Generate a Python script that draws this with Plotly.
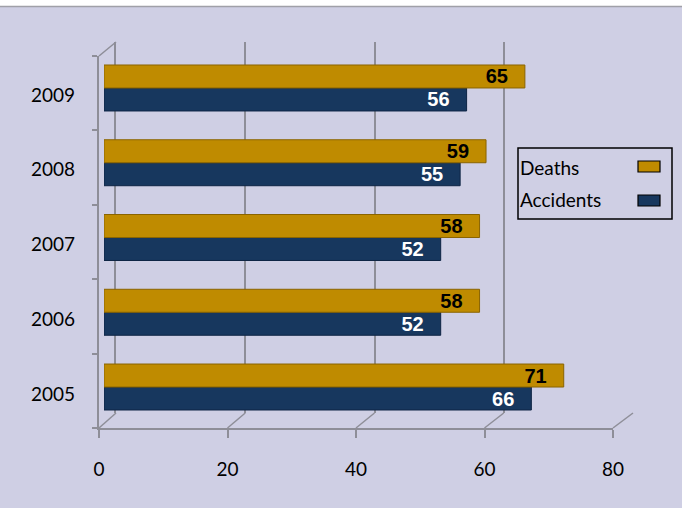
import plotly.graph_objects as go

years = ["2005", "2006", "2007", "2008", "2009"]
deaths = [71, 58, 58, 59, 65]
accidents = [66, 52, 52, 55, 56]
x_ticks = [0, 20, 40, 60, 80]

W, H = 682, 508
def px(p): return p / W
def py(p): return 1 - p / H

BG = "#CFCFE4"
GOLD = "#BF8B00"
NAVY = "#17375E"
GRID = "#8E8E98"
FONT = "Lato"

fig = go.Figure()
# back wall subplot (x, y) - gridlines only
fig.add_trace(go.Scatter(x=[], y=[], xaxis="x", yaxis="y", showlegend=False))
# front frame subplot (x2, y2)
fig.add_trace(go.Scatter(x=[], y=[], xaxis="x2", yaxis="y2", showlegend=False))
# bars (x3, y3)
fig.add_trace(go.Bar(y=years, x=accidents, orientation="h", name="Accidents",
                     marker=dict(color=NAVY, line=dict(color="#0E2444", width=1)),
                     text=accidents, texttemplate="%{x}\u2002\u2009",
                     textposition="inside", insidetextanchor="end", constraintext="none",
                     textfont=dict(family="Liberation Sans", size=20, color="white", weight="bold"),
                     xaxis="x3", yaxis="y3", showlegend=False))
fig.add_trace(go.Bar(y=years, x=deaths, orientation="h", name="Deaths",
                     marker=dict(color=GOLD, line=dict(color="#8A6400", width=1)),
                     text=deaths, texttemplate="%{x}\u2002\u2009",
                     textposition="inside", insidetextanchor="end", constraintext="none",
                     textfont=dict(family="Liberation Sans", size=20, color="black", weight="bold"),
                     xaxis="x3", yaxis="y3", showlegend=False))

shapes = []
# top white strip and border line
shapes.append(dict(type="rect", xref="paper", yref="paper", x0=0, x1=1, y0=py(6), y1=1,
                   fillcolor="white", line=dict(width=0), layer="below"))
shapes.append(dict(type="line", xref="paper", yref="paper", x0=0, x1=1, y0=py(6.5), y1=py(6.5),
                   line=dict(color="#A0A0A8", width=1.5)))
# floor diagonals
for v in x_ticks:
    fx = 99 + v / 80 * 514
    bx = 116 + v / 80 * 517
    shapes.append(dict(type="line", xref="paper", yref="paper",
                       x0=px(fx), y0=py(428), x1=px(bx), y1=py(413),
                       line=dict(color=GRID, width=1.5)))
# top-left diagonal
shapes.append(dict(type="line", xref="paper", yref="paper",
                   x0=px(99), y0=py(56), x1=px(116), y1=py(42),
                   line=dict(color=GRID, width=1.5)))
# custom legend box
shapes.append(dict(type="rect", xref="paper", yref="paper",
                   x0=px(518), x1=px(672), y0=py(219), y1=py(148),
                   line=dict(color="black", width=1.5)))
shapes.append(dict(type="rect", xref="paper", yref="paper",
                   x0=px(638), x1=px(660), y0=py(172), y1=py(161),
                   fillcolor=GOLD, line=dict(color="black", width=1.2)))
shapes.append(dict(type="rect", xref="paper", yref="paper",
                   x0=px(638), x1=px(660), y0=py(206), y1=py(195),
                   fillcolor=NAVY, line=dict(color="black", width=1.2)))

annotations = [
    dict(text="Deaths", xref="paper", yref="paper", x=px(518), y=py(167),
         xanchor="left", yanchor="middle", showarrow=False,
         font=dict(family=FONT, size=19, color="black")),
    dict(text="Accidents", xref="paper", yref="paper", x=px(518), y=py(200),
         xanchor="left", yanchor="middle", showarrow=False,
         font=dict(family=FONT, size=19, color="black")),
]

fig.update_layout(
    width=W, height=H,
    margin=dict(l=0, r=0, t=0, b=0, autoexpand=False),
    paper_bgcolor=BG, plot_bgcolor="rgba(0,0,0,0)",
    barmode="group", bargap=0.385, bargroupgap=0,
    showlegend=False,
    shapes=shapes, annotations=annotations,
    xaxis=dict(domain=[px(116), px(633)], anchor="y", range=[0, 80], dtick=20,
               showgrid=True, gridcolor=GRID, gridwidth=1.5, zeroline=False,
               showticklabels=False, showline=False, automargin=False),
    yaxis=dict(domain=[py(413), py(42)], anchor="x", range=[0, 1],
               showgrid=False, zeroline=False, showticklabels=False,
               showline=True, linecolor=GRID, linewidth=1.5, automargin=False),
    xaxis2=dict(domain=[px(99), px(613)], anchor="y2", range=[0, 80], tickvals=x_ticks,
                showgrid=False, zeroline=False, showline=True, linecolor=GRID, linewidth=1.5,
                ticks="outside", ticklen=8, tickcolor=GRID, tickwidth=1.5,
                ticklabelstandoff=15, automargin=False,
                tickfont=dict(family=FONT, size=19, color="black")),
    yaxis2=dict(domain=[py(428), py(56)], anchor="x2", range=[0, 5], dtick=1,
                showgrid=False, zeroline=False, showticklabels=False,
                showline=True, linecolor=GRID, linewidth=1.5, automargin=False,
                ticks="outside", ticklen=5, tickcolor=GRID, tickwidth=1.5),
    xaxis3=dict(domain=[px(104), px(622)], anchor="y3", range=[0, 80], visible=False,
                automargin=False),
    yaxis3=dict(domain=[py(424.4), py(50.6)], anchor="x3", type="category",
                categoryorder="array", categoryarray=years, range=[-0.5, 4.5],
                showgrid=False, zeroline=False, showline=False, ticks="",
                ticklabelstandoff=28, ticklabelshift=7, automargin=False,
                tickfont=dict(family=FONT, size=19, color="black")),
)

fig.write_html("out.html")
